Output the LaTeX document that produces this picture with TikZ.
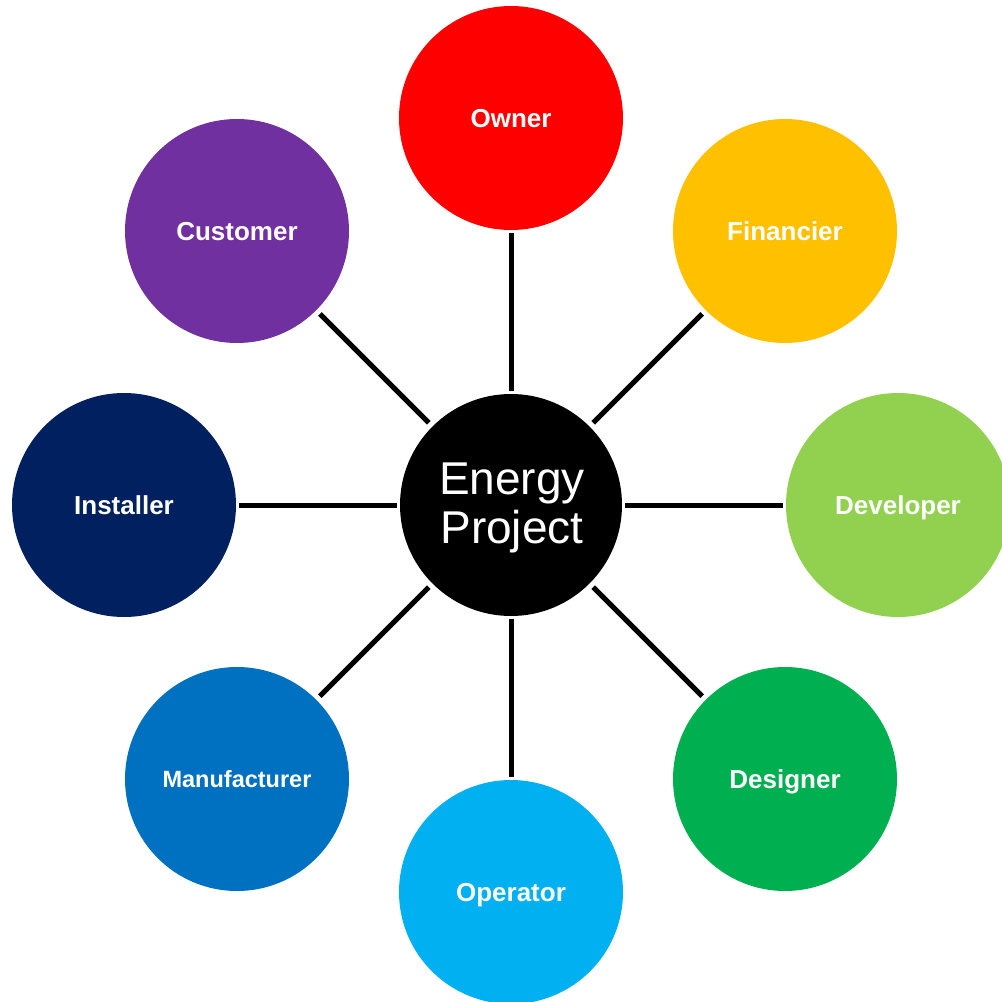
\documentclass[tikz,border=0pt]{standalone}
\usepackage{fontspec}
\setmainfont{Liberation Sans}
\definecolor{cOwner}{HTML}{FF0000}
\definecolor{cFin}{HTML}{FFC000}
\definecolor{cDev}{HTML}{92D050}
\definecolor{cDes}{HTML}{00B050}
\definecolor{cOpe}{HTML}{00B0F0}
\definecolor{cMan}{HTML}{0070C0}
\definecolor{cIns}{HTML}{002060}
\definecolor{cCus}{HTML}{7030A0}
\begin{document}
\begin{tikzpicture}[x=1pt,y=-1pt,
  role/.style={circle, fill=#1, minimum size=224pt, inner sep=0pt, text=white,
    font=\bfseries\fontsize{26}{31}\selectfont, text height=18.6pt, text depth=0pt},
  smalltext/.style={font=\bfseries\fontsize{23.5}{28}\selectfont, text height=16.8pt, text depth=0pt},
  hubtext/.style={text=white, font=\fontsize{46}{50}\selectfont, anchor=base, inner sep=0pt},
  link/.style={line width=5pt, black, shorten >=3pt, shorten <=3pt},
  dlink/.style={line width=5pt, black, shorten >=5pt, shorten <=5pt}]
\useasboundingbox (0,0) rectangle (1002,1002);
\node[circle, fill=black, minimum size=222pt, inner sep=0pt] (hub) at (511,505) {};
\node[hubtext] (t1) at (512,494) {Energy};
\node[hubtext] (t2) at (512,543) {Project};
\node[role=cOwner] (owner) at (511,118) {Owner};
\node[role=cFin] (fin) at (785,231) {Financier};
\node[role=cDev] (dev) at (898,505) {Developer};
\node[role=cDes] (des) at (785,779) {Designer};
\node[role=cOpe] (ope) at (511,892) {Operator};
\node[role=cMan, smalltext] (man) at (237,779) {Manufacturer};
\node[role=cIns] (ins) at (124,505) {Installer};
\node[role=cCus] (cus) at (237,231) {Customer};
\draw[link] (hub) -- (owner);
\draw[dlink] (hub) -- (fin);
\draw[link] (hub) -- (dev);
\draw[dlink] (hub) -- (des);
\draw[link] (hub) -- (ope);
\draw[dlink] (hub) -- (man);
\draw[link] (hub) -- (ins);
\draw[dlink] (hub) -- (cus);
\end{tikzpicture}
\end{document}
